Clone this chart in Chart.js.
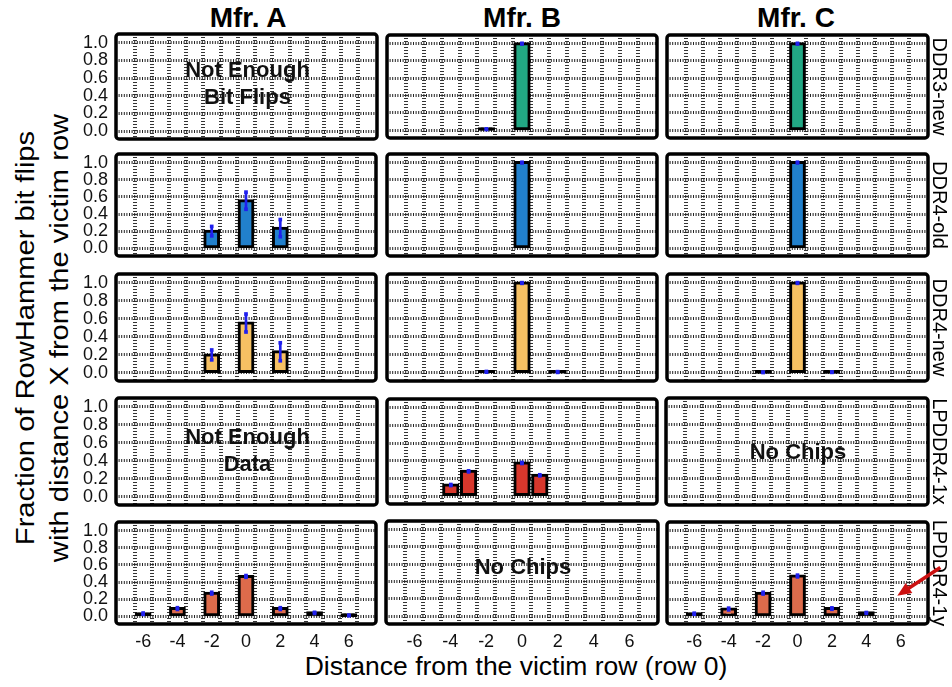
<!DOCTYPE html>
<html>
<head>
<meta charset="utf-8">
<script src="https://cdn.jsdelivr.net/npm/chart.js@4.4.1/dist/chart.umd.min.js"></script>
<style>
  body { margin: 0; background: #fff; width: 952px; height: 687px; position: relative; overflow: hidden;
         font-family: 'Liberation Sans', Arial, Helvetica, sans-serif; }
  canvas { position: absolute; }
  .lbl { position: absolute; white-space: nowrap; color: #000; }
  .mfr { top: 4px; font-size: 28px; line-height: 28px; font-weight: bold; transform: translateX(-50%); }
</style>
</head>
<body>
<div class="lbl mfr" style="left:248px">Mfr. A</div>
<div class="lbl mfr" style="left:522px">Mfr. B</div>
<div class="lbl mfr" style="left:796px">Mfr. C</div>
<div class="lbl" id="yTitle" style="left:42px;top:338px;width:600px;text-align:center;font-size:26px;line-height:34px;transform:translate(-50%,-50%) rotate(-90deg) scaleX(1.12)">Fraction of RowHammer bit flips<br>with distance X from the victim row</div>
<div class="lbl" id="xTitle" style="left:516px;top:666px;font-size:26.5px;line-height:30px;transform:translate(-50%,-50%)">Distance from the victim row (row 0)</div>
<script>
const distances = [-6, -5, -4, -3, -2, -1, 0, 1, 2, 3, 4, 5, 6];
const xTickLabels = ['-6', '-4', '-2', '0', '2', '4', '6'];
const yTickValues = [0, 0.2, 0.4, 0.6, 0.8, 1.0];
const dramTypes = ['DDR3-new', 'DDR4-old', 'DDR4-new', 'LPDDR4-1x', 'LPDDR4-1y'];
const typeColors = ['#22a884', '#2180cc', '#f6c163', '#d8372c', '#dd6b4b'];

// fraction of bit flips per distance (-6 .. 6), null = no bar
const ddr3NewB    = [null, null, null, null, 0.012, null, 1.0, null, null, null, null, null, null];
const ddr3NewBErr = [null, null, null, null, 0.004, null, 0.004, null, null, null, null, null, null];
const ddr3NewC    = [null, null, null, null, null, null, 1.0, null, null, null, null, null, null];
const ddr3NewCErr = [null, null, null, null, null, null, 0.004, null, null, null, null, null, null];

const ddr4OldA    = [null, null, null, null, 0.20, null, 0.555, null, 0.235, null, null, null, null];
const ddr4OldAErr = [null, null, null, null, 0.055, null, 0.10, null, 0.10, null, null, null, null];
const ddr4OldB    = [null, null, null, null, null, null, 1.0, null, null, null, null, null, null];
const ddr4OldBErr = [null, null, null, null, null, null, 0.004, null, null, null, null, null, null];
const ddr4OldC    = [null, null, null, null, null, null, 1.0, null, null, null, null, null, null];
const ddr4OldCErr = [null, null, null, null, null, null, 0.004, null, null, null, null, null, null];

const ddr4NewA    = [null, null, null, null, 0.20, null, 0.555, null, 0.235, null, null, null, null];
const ddr4NewAErr = [null, null, null, null, 0.055, null, 0.10, null, 0.10, null, null, null, null];
const ddr4NewB    = [null, null, null, null, 0.012, null, 1.0, null, 0.01, null, null, null, null];
const ddr4NewBErr = [null, null, null, null, 0.004, null, 0.004, null, 0.004, null, null, null, null];
const ddr4NewC    = [null, null, null, null, 0.006, null, 1.0, null, 0.008, null, null, null, null];
const ddr4NewCErr = [null, null, null, null, 0.002, null, 0.004, null, 0.002, null, null, null, null];

const lpddr4xB    = [null, null, 0.125, 0.28, null, null, 0.375, 0.235, null, null, null, null, null];
const lpddr4xBErr = [null, null, 0.006, 0.006, null, null, 0.006, 0.006, null, null, null, null, null];

const lpddr4yA    = [0.03, null, 0.09, null, 0.27, null, 0.465, null, 0.09, null, 0.04, null, 0.01];
const lpddr4yAErr = [0.008, null, 0.01, null, 0.01, null, 0.01, null, 0.01, null, 0.006, null, 0.004];
const lpddr4yC    = [0.03, null, 0.085, null, 0.27, null, 0.47, null, 0.09, null, 0.04, null, null];
const lpddr4yCErr = [0.006, null, 0.01, null, 0.01, null, 0.01, null, 0.008, null, 0.004, null, null];

const panelData = [
  [null, [ddr3NewB, ddr3NewBErr], [ddr3NewC, ddr3NewCErr]],
  [[ddr4OldA, ddr4OldAErr], [ddr4OldB, ddr4OldBErr], [ddr4OldC, ddr4OldCErr]],
  [[ddr4NewA, ddr4NewAErr], [ddr4NewB, ddr4NewBErr], [ddr4NewC, ddr4NewCErr]],
  [null, [lpddr4xB, lpddr4xBErr], null],
  [[lpddr4yA, lpddr4yAErr], null, [lpddr4yC, lpddr4yCErr]]
];

const panelNotes = [
  { row: 0, col: 0, lines: ['Not Enough', 'Bit Flips'], at: [0.68, 0.37] },
  { row: 3, col: 0, lines: ['Not Enough', 'Data'], at: [0.66, 0.35] },
  { row: 3, col: 2, lines: ['No Chips'], at: [0.49] },
  { row: 4, col: 1, lines: ['No Chips'], at: [0.56] }
];

// layout of the panel frames on the page
const colBox = [[116, 377], [386, 658], [666, 928]];
const rowBox = [[34, 139], [153, 257], [273, 382], [398, 505], [521, 624]];
const ERR_BLUE = '#2020ee';
const FONT = "'Liberation Sans', Arial, Helvetica, sans-serif";

const panelFrame = {
  id: 'panelFrame',
  afterDraw(chart, args, opts) {
    const { ctx, chartArea: a } = chart;
    const yS = chart.scales.y, xS = chart.scales.x;
    ctx.save();
    (opts.notes || []).forEach(n => {
      ctx.font = 'bold 22px ' + FONT;
      ctx.fillStyle = '#111';
      ctx.textAlign = 'center';
      ctx.textBaseline = 'middle';
      n.lines.forEach((t, i) => ctx.fillText(t, (a.left + a.right) / 2 + 1, yS.getPixelForValue(n.at[i])));
    });
    ctx.lineWidth = 3.5;
    ctx.strokeStyle = '#000';
    ctx.beginPath();
    ctx.roundRect(a.left, a.top, a.width, a.height, 3);
    ctx.stroke();
    if (opts.arrow) {
      const x0 = xS.getPixelForValue(opts.arrow.from[0]), y0 = yS.getPixelForValue(opts.arrow.from[1]);
      const x1 = xS.getPixelForValue(opts.arrow.to[0]), y1 = yS.getPixelForValue(opts.arrow.to[1]);
      const ang = Math.atan2(y1 - y0, x1 - x0);
      ctx.strokeStyle = '#cc1111';
      ctx.fillStyle = '#cc1111';
      ctx.lineWidth = 3.5;
      ctx.beginPath();
      ctx.moveTo(x0, y0);
      ctx.lineTo(x1 - 10 * Math.cos(ang), y1 - 10 * Math.sin(ang));
      ctx.stroke();
      ctx.beginPath();
      ctx.moveTo(x1, y1);
      ctx.lineTo(x1 - 14 * Math.cos(ang) + 6 * Math.sin(ang), y1 - 14 * Math.sin(ang) - 6 * Math.cos(ang));
      ctx.lineTo(x1 - 14 * Math.cos(ang) - 6 * Math.sin(ang), y1 - 14 * Math.sin(ang) + 6 * Math.cos(ang));
      ctx.closePath();
      ctx.fill();
    }
    ctx.restore();
  }
};

function noPad(s) {
  s.paddingLeft = 0; s.paddingRight = 0; s.paddingTop = 0; s.paddingBottom = 0;
}

function makePanel(r, c) {
  const [L, R] = colBox[c], [T, B] = rowBox[r];
  const mL = c === 0 ? 44 : 3, mR = c === 2 ? 952 - R : 3, mT = 3, mB = r === 4 ? 34 : 3;
  const cv = document.createElement('canvas');
  cv.width = R - L + mL + mR;
  cv.height = B - T + mT + mB;
  cv.style.left = (L - mL) + 'px';
  cv.style.top = (T - mT) + 'px';
  document.body.appendChild(cv);

  const datasets = [];
  const cell = panelData[r][c];
  if (cell) {
    const [vals, errs] = cell;
    const bars = [], errBars = [], caps = [];
    distances.forEach((d, i) => {
      if (vals[i] == null) return;
      bars.push({ x: d, y: vals[i] });
      errBars.push({ x: d, y: [vals[i] - errs[i], vals[i] + errs[i]] });
      caps.push({ x: d, y: vals[i] - errs[i] }, { x: d, y: vals[i] + errs[i] });
    });
    datasets.push({
      type: 'line', data: caps, showLine: false, order: 1,
      pointStyle: 'rect', pointRadius: 2.6, pointBackgroundColor: ERR_BLUE, pointBorderWidth: 0
    });
    datasets.push({
      type: 'bar', data: errBars, grouped: false, order: 2,
      barThickness: 2, backgroundColor: ERR_BLUE, borderWidth: 0
    });
    datasets.push({
      type: 'bar', data: bars, grouped: false, order: 3,
      barPercentage: 0.8, categoryPercentage: 1,
      backgroundColor: ctx => (ctx.raw && ctx.raw.y < 0.05 ? '#000' : typeColors[r]),
      borderColor: '#000', borderWidth: 3, borderSkipped: false, inflateAmount: 1.5
    });
  }

  const scales = {
    x: {
      type: 'linear', min: -7, max: 7, z: 1,
      afterBuildTicks: s => { s.ticks = distances.map(v => ({ value: v })); },
      afterFit: s => { s.height = r === 4 ? mB : 0; noPad(s); },
      grid: { color: '#333', lineWidth: 4, drawTicks: false },
      border: { display: false, dash: [1.1, 1.9] },
      ticks: {
        display: r === 4, autoSkip: false, maxRotation: 0, padding: 7, color: '#111',
        font: { size: 18, family: FONT },
        callback: v => (xTickLabels.includes(String(v)) ? String(v) : '')
      }
    },
    y: {
      min: -0.09, max: 1.10, z: 1,
      afterBuildTicks: s => { s.ticks = yTickValues.map(v => ({ value: v })); },
      afterFit: s => { s.width = c === 0 ? mL : 0; noPad(s); },
      grid: { color: '#222', lineWidth: 3, drawTicks: false },
      border: { display: false, dash: [1, 1.6] },
      ticks: {
        display: c === 0, autoSkip: false, padding: 8, color: '#111',
        font: { size: 18, family: FONT },
        callback: v => v.toFixed(1)
      }
    }
  };
  if (c === 2) {
    scales.y2 = {
      position: 'right', min: -0.09, max: 1.10,
      afterFit: s => { s.width = mR; noPad(s); },
      grid: { display: false },
      border: { display: false },
      ticks: { display: false },
      title: { display: true, text: dramTypes[r], color: '#000', padding: { top: 1, bottom: 0 },
               font: { size: 20, family: FONT } }
    };
  }

  new Chart(cv, {
    type: 'bar',
    data: { datasets },
    options: {
      responsive: false, animation: false, events: [],
      layout: { padding: { left: c === 0 ? 0 : 3, right: c === 2 ? 0 : 3, top: mT, bottom: r === 4 ? 0 : 3 } },
      plugins: {
        legend: { display: false },
        tooltip: { enabled: false },
        panelFrame: {
          notes: panelNotes.filter(n => n.row === r && n.col === c),
          arrow: (r === 4 && c === 2) ? { from: [8.3, 0.57], to: [5.8, 0.24] } : null
        }
      },
      scales
    },
    plugins: [panelFrame]
  });
}

for (let r = 0; r < 5; r++) {
  for (let c = 0; c < 3; c++) makePanel(r, c);
}
</script>
</body>
</html>
